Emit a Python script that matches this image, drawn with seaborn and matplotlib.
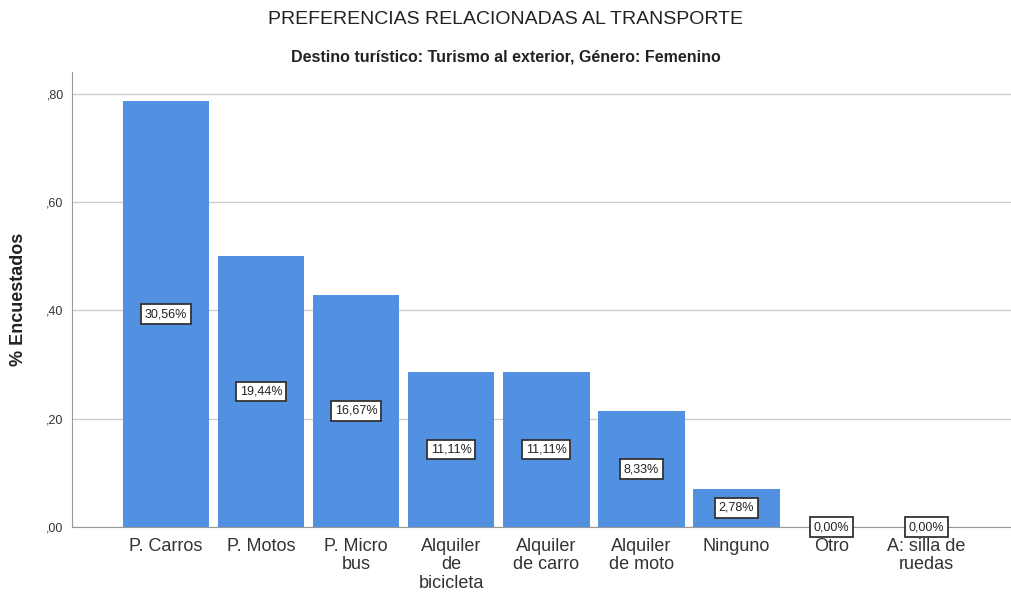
import matplotlib
matplotlib.use("Agg")
import matplotlib.pyplot as plt
import seaborn as sns
import pandas as pd

categories = ["P. Carros", "P. Motos", "P. Micro\nbus", "Alquiler\nde\nbicicleta",
              "Alquiler\nde carro", "Alquiler\nde moto", "Ninguno", "Otro", "A: silla de\nruedas"]
values = [0.786, 0.500, 0.429, 0.286, 0.286, 0.214, 0.071, 0.0, 0.0]
pct_labels = ["30,56%", "19,44%", "16,67%", "11,11%", "11,11%", "8,33%", "2,78%", "0,00%", "0,00%"]
yticks = [0.0, 0.2, 0.4, 0.6, 0.8]
ytick_labels = [",00", ",20", ",40", ",60", ",80"]

sns.set_style("white")
plt.rcParams['font.family'] = ['Liberation Sans', 'DejaVu Sans']

df = pd.DataFrame({"cat": categories, "val": values})

fig = plt.figure(figsize=(10.12, 5.95), dpi=100)
ax = fig.add_axes([72/1012, 68/595, 1 - 72/1012, (527-72)/595])

sns.barplot(data=df, x="cat", y="val", color="#5291e2", saturation=1, width=0.91,
            ax=ax, zorder=3, edgecolor="none")

ax.set_ylim(0, 0.84)
ax.set_xlim(-0.99, 8.9)
ax.set_yticks(yticks)
ax.set_yticklabels(ytick_labels, fontsize=9, color="#333333")
ax.tick_params(axis="both", length=0, pad=6)
ax.tick_params(axis="x", labelsize=13, colors="#333333", pad=8)
for lbl in ax.get_xticklabels():
    lbl.set_linespacing(1.1)
    lbl.set_verticalalignment("top")
ax.grid(axis="y", color="#cccccc", linewidth=1, zorder=0)
for s in ["top", "right"]:
    ax.spines[s].set_visible(False)
ax.spines["left"].set_color("#999999")
ax.spines["bottom"].set_color("#999999")
ax.set_xlabel("")
ax.set_ylabel("% Encuestados", fontsize=13, fontweight="bold", color="#222222", labelpad=14)

for i, (v, t) in enumerate(zip(values, pct_labels)):
    ax.text(i, v / 2, t, ha="center", va="center", fontsize=9, color="#222222", zorder=5,
            bbox=dict(boxstyle="square,pad=0.3", facecolor="white", edgecolor="#333333", linewidth=1.3))

fig.text(0.5, 1 - 20/595, "PREFERENCIAS RELACIONADAS AL TRANSPORTE", ha="center", va="center",
         fontsize=14, color="#222222")
fig.text(0.5, 1 - 57/595, "Destino turístico: Turismo al exterior, Género: Femenino", ha="center",
         va="center", fontsize=11.5, fontweight="bold", color="#222222")

fig.savefig("out.png", dpi=100)
